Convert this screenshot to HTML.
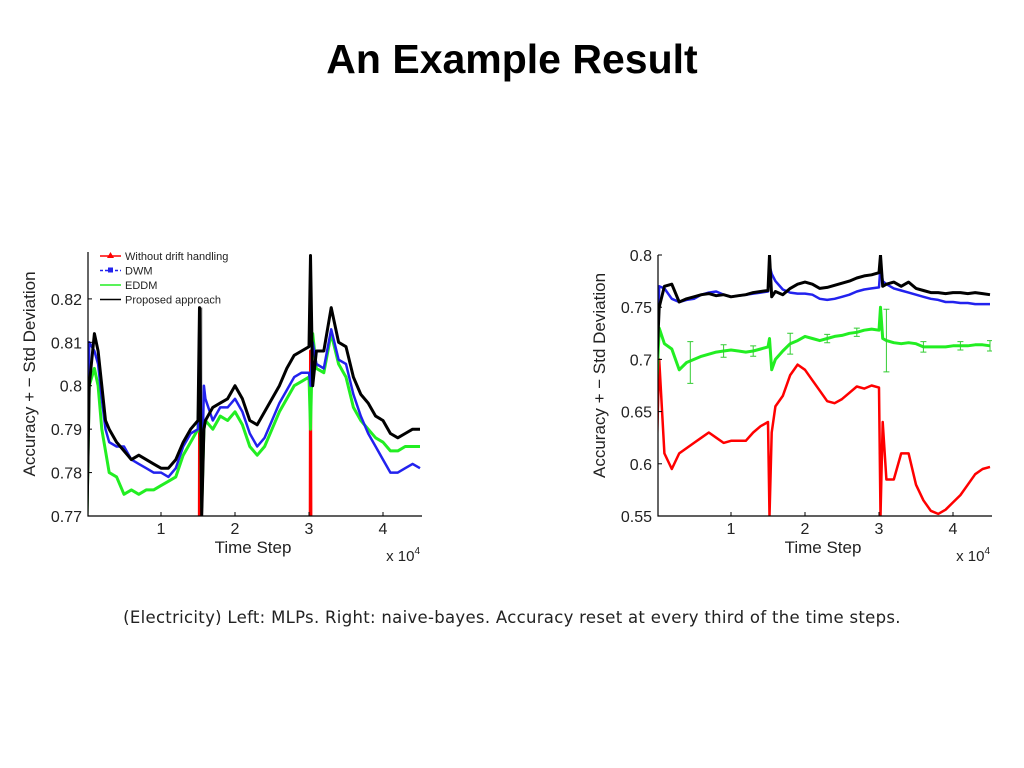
<!DOCTYPE html>
<html style="width:1024px;height:768px;overflow:hidden"><head><meta charset="utf-8"><style>
html,body{margin:0;padding:0}
body{background:#fff;width:1024px;height:768px;overflow:hidden;position:relative;font-family:"Liberation Sans",sans-serif}
#title{position:absolute;left:0;width:1024px;top:36px;text-align:center;font-weight:bold;font-size:41px;color:#000}
#caption{position:absolute;left:0;width:1024px;top:608px;text-align:center;font-size:16.5px;color:#222;font-family:"DejaVu Sans","Liberation Sans",sans-serif;letter-spacing:0.3px}
svg{position:absolute;left:0;top:0;display:block}
</style></head><body>
<div id="title">An Example Result</div>
<svg id="chart" width="1024" height="768"></svg>
<div id="caption">(Electricity) Left: MLPs. Right: naive-bayes. Accuracy reset at every third of the time steps.</div>
<script>
const leftX=[0,0.03,0.1,0.15,0.2,0.25,0.3,0.4,0.5,0.6,0.7,0.8,0.9,1.0,1.1,1.2,1.3,1.4,1.5,1.52,1.55,1.58,1.6,1.7,1.8,1.9,2.0,2.1,2.2,2.3,2.4,2.5,2.6,2.7,2.8,2.9,3.0,3.02,3.05,3.1,3.2,3.3,3.4,3.5,3.6,3.7,3.8,3.9,4.0,4.1,4.2,4.3,4.4,4.5];
const leftBlack=[0.77,0.80,0.812,0.808,0.80,0.792,0.79,0.787,0.785,0.783,0.784,0.783,0.782,0.781,0.781,0.783,0.787,0.790,0.792,0.818,0.77,0.79,0.792,0.795,0.796,0.797,0.800,0.797,0.792,0.791,0.794,0.797,0.800,0.804,0.807,0.808,0.809,0.83,0.80,0.808,0.808,0.818,0.810,0.809,0.802,0.798,0.796,0.793,0.792,0.789,0.788,0.789,0.790,0.790];
const leftBlue=[0.77,0.81,0.808,0.805,0.797,0.79,0.787,0.786,0.786,0.783,0.782,0.781,0.780,0.780,0.779,0.781,0.786,0.789,0.790,0.817,0.775,0.80,0.797,0.792,0.795,0.795,0.797,0.794,0.789,0.786,0.788,0.792,0.796,0.799,0.802,0.803,0.803,0.80,0.81,0.805,0.804,0.813,0.806,0.805,0.798,0.793,0.789,0.786,0.783,0.780,0.780,0.781,0.782,0.781];
const leftGreen=[0.77,0.80,0.804,0.80,0.79,0.785,0.78,0.779,0.775,0.776,0.775,0.776,0.776,0.777,0.778,0.779,0.784,0.787,0.790,0.805,0.772,0.79,0.792,0.790,0.793,0.792,0.794,0.791,0.786,0.784,0.786,0.790,0.794,0.797,0.800,0.801,0.802,0.79,0.812,0.804,0.803,0.812,0.805,0.802,0.795,0.792,0.790,0.788,0.787,0.785,0.785,0.786,0.786,0.786];
const leftRed=[0.6,0.6,0.6,0.6,0.6,0.6,0.6,0.6,0.6,0.6,0.6,0.6,0.6,0.6,0.6,0.6,0.6,0.6,0.6,0.789,0.6,0.6,0.6,0.6,0.6,0.6,0.6,0.6,0.6,0.6,0.6,0.6,0.6,0.6,0.6,0.6,0.6,0.808,0.6,0.6,0.6,0.6,0.6,0.6,0.6,0.6,0.6,0.6,0.6,0.6,0.6,0.6,0.6,0.6];
const leftYTicks=[0.77,0.78,0.79,0.8,0.81,0.82];
const leftYLabels=["0.77","0.78","0.79","0.8","0.81","0.82"];

const rightX=[0,0.03,0.1,0.2,0.3,0.4,0.5,0.6,0.7,0.8,0.9,1.0,1.1,1.2,1.3,1.4,1.5,1.52,1.55,1.6,1.7,1.8,1.9,2.0,2.1,2.2,2.3,2.4,2.5,2.6,2.7,2.8,2.9,3.0,3.02,3.05,3.1,3.2,3.3,3.4,3.5,3.6,3.7,3.8,3.9,4.0,4.1,4.2,4.3,4.4,4.5];
const rightBlack=[0.70,0.75,0.77,0.772,0.755,0.758,0.76,0.762,0.763,0.761,0.762,0.760,0.761,0.762,0.764,0.765,0.766,0.80,0.76,0.765,0.762,0.768,0.772,0.774,0.772,0.768,0.769,0.771,0.773,0.775,0.778,0.780,0.781,0.783,0.80,0.77,0.772,0.774,0.770,0.774,0.768,0.766,0.764,0.764,0.763,0.764,0.764,0.763,0.764,0.763,0.762];
const rightBlue=[0.70,0.77,0.768,0.758,0.755,0.757,0.758,0.762,0.764,0.765,0.762,0.760,0.761,0.762,0.763,0.764,0.765,0.79,0.782,0.775,0.767,0.764,0.763,0.763,0.762,0.758,0.757,0.758,0.760,0.762,0.765,0.767,0.768,0.769,0.79,0.775,0.772,0.768,0.766,0.764,0.762,0.760,0.758,0.757,0.755,0.755,0.754,0.754,0.753,0.753,0.753];
const rightGreen=[0.68,0.73,0.715,0.71,0.69,0.697,0.70,0.703,0.705,0.707,0.708,0.709,0.708,0.707,0.708,0.710,0.712,0.72,0.69,0.70,0.708,0.715,0.718,0.722,0.72,0.718,0.72,0.722,0.723,0.725,0.726,0.728,0.729,0.728,0.75,0.72,0.718,0.716,0.715,0.716,0.715,0.712,0.712,0.712,0.712,0.713,0.713,0.713,0.714,0.714,0.713];
const rightRed=[0.62,0.70,0.61,0.595,0.61,0.615,0.62,0.625,0.63,0.625,0.62,0.622,0.622,0.622,0.63,0.636,0.64,0.55,0.63,0.655,0.665,0.685,0.695,0.69,0.68,0.67,0.66,0.658,0.662,0.668,0.674,0.672,0.675,0.673,0.55,0.64,0.585,0.585,0.61,0.61,0.58,0.565,0.555,0.552,0.556,0.563,0.57,0.58,0.59,0.595,0.597];
const rightErrX=[0.45,0.9,1.3,1.8,2.3,2.7,3.1,3.6,4.1,4.5];
const rightErrV=[0.697,0.708,0.708,0.715,0.72,0.726,0.718,0.712,0.713,0.713];
const rightErrS=[0.02,0.006,0.005,0.01,0.004,0.004,0.03,0.005,0.004,0.005];
const rightYTicks=[0.55,0.6,0.65,0.7,0.75,0.8];
const rightYLabels=["0.55","0.6","0.65","0.7","0.75","0.8"];
const xTicks=[1,2,3,4];
const xLabels=["1","2","3","4"];

const NS="http://www.w3.org/2000/svg";
const svg=document.getElementById('chart');
function mk(tag,attrs,parent){const e=document.createElementNS(NS,tag);for(const k in attrs)e.setAttribute(k,attrs[k]);(parent||svg).appendChild(e);return e;}

function drawChart(id,L,R,T,B,ymin,ymax,xs,series,yTicks,yLabels,err,bars){
  const g=mk('g',{});
  
  
  const x0=L-1,xs1=74;
  const sx=v=>x0+v*xs1;
  const sy=v=>B-(v-ymin)/(ymax-ymin)*(B-T);
  const cid=id+'-clip';
  const cp=mk('clipPath',{id:cid},g);mk('rect',{x:L,y:T,width:R-L,height:B-T},cp);
  const plot=mk('g',{'clip-path':'url(#'+cid+')'},g);
  if(bars){bars.forEach(b=>{
    const r=mk('rect',{x:sx(b[0])-2,y:sy(b[1]),width:4,height:B-sy(b[1]),fill:'#555'},plot);
    
    
  });}
  series.forEach(s=>{
    const d=s.vals.map((v,i)=>(i?'L':'M')+sx(xs[i]).toFixed(1)+','+sy(v).toFixed(1)).join('');
    const p=mk('path',{d:d,fill:'none',stroke:s.color,'stroke-width':s.w,'stroke-linejoin':'round'},plot);
    
    
  });
  if(err){err.x.forEach((xv,i)=>{
    const xx=sx(xv),y1=sy(err.v[i]-err.s[i]),y2=sy(err.v[i]+err.s[i]);
    const e=mk('path',{d:`M${xx},${y1}L${xx},${y2}M${xx-3},${y1}L${xx+3},${y1}M${xx-3},${y2}L${xx+3},${y2}`,stroke:'#3c3',fill:'none','stroke-width':1},plot);
    
    
  });}
  mk('path',{d:`M${L},${T}L${L},${B}L${R},${B}`,stroke:'#000',fill:'none','stroke-width':1.2},g);
  yTicks.forEach((v,i)=>{
    const y=sy(v);
    mk('line',{x1:L,x2:L+4,y1:y,y2:y,stroke:'#000'},g);
    const t=mk('text',{x:L-6,y:y+6,'text-anchor':'end','font-size':16,fill:'#222'},g);
    t.textContent=yLabels[i];
    
    
  });
  xTicks.forEach((v,i)=>{
    const x=sx(v);
    mk('line',{x1:x,x2:x,y1:B,y2:B-4,stroke:'#000'},g);
    const t=mk('text',{x:x,y:B+18,'text-anchor':'middle','font-size':16,fill:'#222'},g);
    t.textContent=xLabels[i];
    
    
  });
  const xt=mk('text',{x:(L+R)/2-2,y:B+37,'text-anchor':'middle','font-size':17,fill:'#222'},g);
  xt.textContent='Time Step';
  
  
  const xm=mk('text',{x:R-2,y:B+45,'text-anchor':'end','font-size':15,fill:'#222'},g);
  xm.innerHTML='x 10<tspan dy="-7" font-size="10">4</tspan>';
  
  
  const yt=mk('text',{x:0,y:0,'text-anchor':'middle','font-size':17,fill:'#222',transform:`translate(${L-53},${(T+B)/2-10}) rotate(-90)`},g);
  yt.textContent='Accuracy + \u2212 Std Deviation';
  
  
}

drawChart('left-chart',88,422,252,516,0.77,0.8308,leftX,[
  {name:'without-drift',vals:leftRed,color:'#f00',w:3},
  {name:'eddm',vals:leftGreen,color:'#2e2',w:3},
  {name:'dwm',vals:leftBlue,color:'#22e',w:2.5},
  {name:'proposed',vals:leftBlack,color:'#000',w:3}
],leftYTicks,leftYLabels,null,[[1.53,0.818]]);

drawChart('right-chart',658,992,255,516,0.55,0.8,rightX,[
  {name:'without-drift',vals:rightRed,color:'#f00',w:2.5},
  {name:'eddm',vals:rightGreen,color:'#2e2',w:3},
  {name:'dwm',vals:rightBlue,color:'#22e',w:2.5},
  {name:'proposed',vals:rightBlack,color:'#000',w:3}
],rightYTicks,rightYLabels,{x:rightErrX,v:rightErrV,s:rightErrS},null);

const lg=mk('g',{});


const legItems=[['Without drift handling','#f00','tri'],['DWM','#22e','sq'],['EDDM','#2e2',''],['Proposed approach','#000','']];
legItems.forEach((it,i)=>{
  const y=256+i*14.5;
  mk('line',{x1:100,x2:121,y1:y,y2:y,stroke:it[1],'stroke-width':1.5,'stroke-dasharray':it[2]==='sq'?'3,2':'none'},lg);
  if(it[2]==='tri')mk('path',{d:`M110.5,${y-4}L114,${y+2}L107,${y+2}Z`,fill:it[1]},lg);
  if(it[2]==='sq')mk('rect',{x:108,y:y-3,width:5,height:5,fill:it[1]},lg);
  const t=mk('text',{x:125,y:y+4,'font-size':11,fill:'#222'},lg);
  t.textContent=it[0];
  
  
});
</script>
</body></html>
